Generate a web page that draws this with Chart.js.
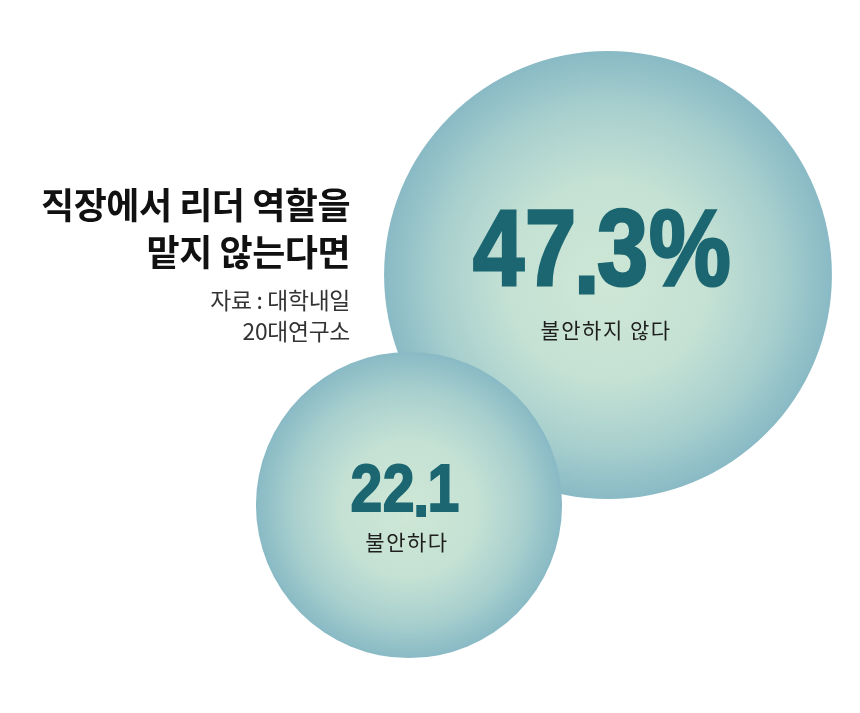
<!DOCTYPE html>
<html lang="ko">
<head>
<meta charset="utf-8">
<script src="https://cdn.jsdelivr.net/npm/chart.js@4/dist/chart.umd.min.js"></script>
<style>
  html, body { margin: 0; padding: 0; background: #fff; }
  #wrap { width: 860px; height: 713px; }
</style>
</head>
<body>
<div id="wrap"><canvas id="c" width="860" height="713"></canvas></div>
<script>
// ---- data ----
const categories = ["불안하지 않다", "불안하다"];
const values = [47.3, 22.1];
const valueLabels = ["47.3%", "22.1"];
// bubble centres on the (hidden) layout grid
const posX = [608, 409];
const posY = [275, 505];

const titleLines = ["직장에서 리더 역할을", "맡지 않는다면"];
const sourceLines = ["자료 : 대학내일", "20대연구소"];

// bubble area proportional to value
const R_PER_ROOT = 32.56;

const KR = '"Noto Sans CJK KR", "Noto Sans", sans-serif';

// radial gradient per bubble, built once the elements have their pixel positions
const gradientPlugin = {
  id: "bubbleGradient",
  beforeDatasetsDraw(chart) {
    const ctx = chart.ctx;
    chart.getDatasetMeta(0).data.forEach(el => {
      const r = el.options.radius;
      if (!isFinite(el.x) || !isFinite(el.y) || !isFinite(r)) return;
      const g = ctx.createRadialGradient(el.x, el.y + r * 0.05, 0, el.x, el.y, r);
      g.addColorStop(0, "#cee7d6");
      g.addColorStop(0.45, "#c4e1d4");
      g.addColorStop(0.75, "#a9d0ce");
      g.addColorStop(1, "#89bac5");
      el.options.backgroundColor = g;
    });
  }
};

// big number: condensed heavy face, with the decimal point dropped a little
function drawValue(ctx, text, cx, baseline, size) {
  const sx = 0.85;
  ctx.save();
  ctx.fillStyle = "#1b6671";
  ctx.strokeStyle = "#1b6671";
  ctx.lineWidth = size * 0.028;
  ctx.lineJoin = "miter";
  ctx.font = "700 " + size + "px 'Liberation Sans', Arial, sans-serif";
  ctx.letterSpacing = (size * 0.01) + "px";
  ctx.textAlign = "left";
  ctx.textBaseline = "alphabetic";
  const parts = text.split(".");
  const wA = ctx.measureText(parts[0]).width;
  const wDot = ctx.measureText(".").width * 0.75;
  const wB = parts.length > 1 ? ctx.measureText(parts[1]).width : 0;
  const total = wA + (parts.length > 1 ? wDot + wB : 0);
  ctx.translate(cx, baseline);
  ctx.scale(sx, 1);
  const put = (s, x, y) => { ctx.fillText(s, x, y); ctx.strokeText(s, x, y); };
  let x = -total / 2;
  put(parts[0], x, 0);
  if (parts.length > 1) {
    x += wA;
    put(".", x - size * 0.035, size * 0.075);
    x += wDot;
    put(parts[1], x, 0);
  }
  ctx.restore();
}

const textPlugin = {
  id: "bubbleText",
  afterDatasetsDraw(chart) {
    const ctx = chart.ctx;
    const meta = chart.getDatasetMeta(0);
    ctx.save();
    meta.data.forEach((el, i) => {
      const r = el.options.radius;
      drawValue(ctx, valueLabels[i], el.x - r * 0.025, el.y + r * 0.055 - 2, r * 0.577 - 21);

      ctx.fillStyle = "#1e1e1e";
      ctx.font = "400 21px " + KR;
      ctx.letterSpacing = "1.5px";
      ctx.textAlign = "center";
      ctx.textBaseline = "middle";
      ctx.fillText(categories[i], el.x - 2, el.y + r * 0.245);
    });
    ctx.restore();
  }
};

const titlePlugin = {
  id: "sideTitle",
  afterDraw(chart) {
    const ctx = chart.ctx;
    ctx.save();
    ctx.textAlign = "right";
    ctx.textBaseline = "middle";
    ctx.fillStyle = "#111";
    ctx.font = "700 36px " + KR;
    ctx.letterSpacing = "-0.5px";
    ctx.fillText(titleLines[0], 350, 205);
    ctx.fillText(titleLines[1], 350, 252);
    ctx.fillStyle = "#333";
    ctx.font = "400 22.8px " + KR;
    ctx.letterSpacing = "-0.3px";
    ctx.fillText(sourceLines[0], 350, 300);
    ctx.fillText(sourceLines[1], 350, 331);
    ctx.restore();
  }
};

new Chart(document.getElementById("c"), {
  type: "bubble",
  data: {
    labels: categories,
    datasets: [{
      data: values.map((v, i) => ({ x: posX[i], y: posY[i], r: Math.sqrt(v) * R_PER_ROOT })),
      backgroundColor: "#a8d0cf",
      borderWidth: 0,
      hoverBorderWidth: 0,
      clip: false
    }]
  },
  options: {
    responsive: false,
    animation: false,
    events: [],
    layout: { padding: 0, autoPadding: false },
    plugins: { legend: { display: false }, tooltip: { enabled: false } },
    scales: {
      x: { type: "linear", min: 0, max: 860, display: false },
      y: { type: "linear", min: 0, max: 713, reverse: true, display: false }
    }
  },
  plugins: [gradientPlugin, textPlugin, titlePlugin]
});
</script>
</body>
</html>
